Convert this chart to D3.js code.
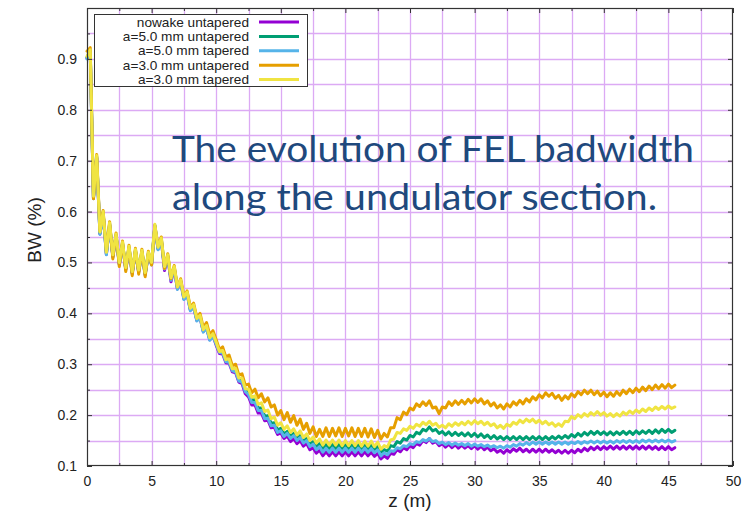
<!DOCTYPE html>
<html>
<head>
<meta charset="utf-8">
<script src="https://cdn.jsdelivr.net/npm/d3@7"></script>
<style>
  html, body { margin: 0; padding: 0; background: #fff; }
  svg { display: block; }
</style>
</head>
<body>
<svg id="chart" width="743" height="513"></svg>
<script>
// FEL bandwidth (%) along the undulator, sampled every 0.25 m from z = 0 to 45.5 m
const zStep = 0.25;

const bwNowakeUntapered = [
  0.901,0.914,0.626,0.706,0.556,0.596,0.516,0.574,0.511,0.552,0.496,0.536,0.486,0.528,0.478,0.522,0.481,0.520,0.476,0.516,
  0.496,0.571,0.526,0.544,0.484,0.511,0.462,0.488,0.448,0.462,0.428,0.438,0.406,0.413,0.386,0.392,0.364,0.372,0.348,0.356,
  0.337,0.321,0.320,0.303,0.302,0.285,0.283,0.265,0.262,0.242,0.236,0.220,0.220,0.204,0.204,0.189,0.190,0.175,0.176,0.162,
  0.165,0.154,0.159,0.148,0.154,0.144,0.150,0.139,0.144,0.132,0.136,0.125,0.131,0.120,
  0.128,0.120,0.128,0.120,0.128,0.120,0.128,0.120,0.128,0.120,0.128,0.120,0.128,0.120,0.127,0.119,
  0.125,0.114,0.120,
  0.115,0.125,0.123,0.132,0.128,0.136,0.132,0.140,0.136,0.144,0.141,0.150,0.146,0.154,
  0.145,0.148,0.140,0.144,0.137,0.143,0.136,0.142,0.135,0.141,0.135,0.140,0.134,0.140,0.133,0.139,0.132,0.137,0.130,0.134,0.127,0.131,
  0.125,0.132,0.127,0.134,0.129,0.135,0.128,0.133,0.127,0.133,0.127,0.133,0.127,0.133,0.127,
  0.132,0.126,0.131,0.125,0.131,0.125,0.131,0.126,0.133,0.128,0.135,0.130,0.137,0.132,0.138,0.132,0.138,
  0.133,0.139,0.133,0.139,0.133,0.139,0.133,0.139,0.133,0.139,0.133,0.139,0.133,0.139,0.133,0.138,0.132,0.138,0.132,0.138,0.132,0.136
];

const bwA5Untapered = [
  0.903,0.916,0.628,0.708,0.558,0.598,0.518,0.576,0.513,0.554,0.498,0.538,0.488,0.530,0.480,0.524,0.483,0.522,0.478,0.518,
  0.498,0.573,0.528,0.546,0.490,0.513,0.468,0.490,0.450,0.464,0.430,0.440,0.408,0.415,0.388,0.394,0.367,0.374,0.350,0.358,
  0.342,0.326,0.325,0.308,0.307,0.290,0.289,0.271,0.269,0.250,0.244,0.229,0.230,0.214,0.214,0.198,0.199,0.184,0.185,0.171,
  0.174,0.163,0.168,0.158,0.164,0.154,0.160,0.149,0.154,0.143,0.148,0.138,0.144,0.134,
  0.142,0.134,0.142,0.134,0.142,0.134,0.142,0.134,0.142,0.134,0.142,0.134,0.142,0.133,0.141,0.132,
  0.139,0.127,0.132,
  0.129,0.140,0.138,0.148,0.145,0.154,0.151,0.160,0.157,0.166,0.163,0.172,0.169,0.177,
  0.169,0.172,0.164,0.168,0.161,0.167,0.160,0.166,0.160,0.165,0.159,0.165,0.158,0.164,0.157,0.163,0.156,0.161,0.154,0.160,0.153,0.158,
  0.152,0.158,0.152,0.158,0.152,0.158,0.152,0.158,0.152,0.158,0.152,0.158,0.152,0.158,0.152,0.158,
  0.153,0.159,0.154,0.160,0.155,0.162,0.157,0.164,0.159,0.166,0.161,0.168,0.162,0.168,0.162,0.167,0.161,
  0.167,0.161,0.167,0.162,0.168,0.162,0.168,0.162,0.169,0.163,0.169,0.164,0.170,0.164,0.171,0.165,0.172,0.166,0.172,0.166,0.170
];

const bwA5Tapered = [
  0.900,0.913,0.625,0.705,0.555,0.595,0.515,0.573,0.510,0.551,0.495,0.535,0.485,0.527,0.477,0.521,0.480,0.519,0.475,0.515,
  0.495,0.570,0.525,0.543,0.487,0.510,0.465,0.487,0.447,0.461,0.427,0.437,0.405,0.412,0.385,0.391,0.363,0.371,0.347,0.355,
  0.339,0.323,0.322,0.305,0.304,0.287,0.285,0.267,0.265,0.246,0.240,0.225,0.225,0.209,0.209,0.193,0.194,0.179,0.180,0.166,
  0.169,0.158,0.164,0.154,0.160,0.150,0.156,0.145,0.150,0.138,0.143,0.132,0.138,0.127,
  0.135,0.127,0.135,0.127,0.135,0.127,0.135,0.127,0.135,0.127,0.135,0.127,0.135,0.127,0.134,0.126,
  0.132,0.120,0.126,
  0.122,0.130,0.129,0.136,0.134,0.140,0.138,0.144,0.142,0.148,0.146,0.152,0.149,0.154,
  0.148,0.150,0.144,0.147,0.142,0.146,0.141,0.145,0.141,0.144,0.140,0.144,0.139,0.143,0.139,0.142,0.138,0.141,0.137,0.140,0.136,0.139,
  0.135,0.140,0.137,0.142,0.139,0.144,0.141,0.146,0.142,0.147,
  0.143,0.147,0.143,0.147,0.143,0.147,0.143,0.147,0.143,0.147,0.143,0.147,
  0.144,0.148,0.144,0.148,0.145,0.149,0.145,0.149,0.145,0.149,0.145,0.149,0.145,
  0.150,0.146,0.150,0.146,0.150,0.146,0.150,0.146,0.151,0.147,0.151,0.147,0.151,0.147,0.151,0.147,0.151,0.147,0.150
];

const bwA3Untapered = [
  0.915,0.922,0.625,0.712,0.562,0.602,0.522,0.580,0.507,0.558,0.492,0.542,0.482,0.534,0.474,0.528,0.477,0.526,0.472,0.522,
  0.495,0.572,0.532,0.550,0.488,0.517,0.468,0.494,0.452,0.468,0.433,0.444,0.412,0.420,0.392,0.400,0.372,0.382,0.358,0.366,
  0.348,0.329,0.334,0.314,0.318,0.297,0.300,0.279,0.281,0.259,0.261,0.244,0.251,0.234,0.242,0.226,0.234,0.216,0.220,0.200,
  0.209,0.191,0.205,0.186,0.199,0.180,0.192,0.172,0.184,0.164,0.177,0.158,0.172,
  0.158,0.175,0.158,0.174,0.159,0.175,0.158,0.174,0.159,0.175,0.158,0.174,0.158,0.174,0.157,0.173,0.156,0.170,0.153,0.164,
  0.157,0.175,0.175,0.195,0.191,0.206,0.201,
  0.214,0.210,0.222,0.217,0.226,0.219,0.228,0.214,0.216,0.203,0.216,0.214,0.226,0.219,0.228,0.221,0.229,0.222,0.231,0.224,0.232,0.225,
  0.232,0.222,0.228,0.218,0.224,0.214,0.220,0.212,0.222,0.216,0.226,0.220,0.229,0.222,0.232,0.226,0.236,0.230,0.240,0.234,0.244,0.237,
  0.243,0.233,0.239,0.229,0.238,0.232,0.242,0.236,0.246,0.240,0.249,0.242,0.249,0.240,0.247,0.238,0.245,0.236,0.244,0.237,
  0.246,0.239,0.249,0.242,0.251,0.244,0.253,0.246,0.255,0.248,0.257,0.250,0.259,0.252,0.260,0.253,0.261,0.254,0.259
];

const bwA3Tapered = [
  0.905,0.918,0.630,0.710,0.560,0.600,0.520,0.578,0.515,0.556,0.500,0.540,0.490,0.532,0.482,0.526,0.485,0.524,0.480,0.520,
  0.500,0.575,0.530,0.548,0.492,0.515,0.470,0.492,0.452,0.466,0.432,0.442,0.410,0.417,0.390,0.396,0.368,0.376,0.352,0.360,
  0.343,0.325,0.327,0.309,0.310,0.291,0.292,0.273,0.273,0.252,0.251,0.235,0.238,0.221,0.224,0.207,0.210,0.193,0.196,0.180,
  0.185,0.172,0.179,0.166,0.173,0.161,0.169,0.156,0.163,0.150,0.157,0.145,0.153,0.141,
  0.151,0.141,0.151,0.141,0.151,0.140,0.150,0.140,0.150,0.140,0.150,0.139,0.149,0.139,0.149,0.138,0.147,0.133,0.140,
  0.137,0.151,0.153,0.166,0.164,0.173,0.170,0.178,0.174,0.182,0.178,0.186,0.181,0.188,
  0.180,0.184,0.176,0.180,0.175,0.183,0.178,0.185,0.180,0.186,0.181,0.188,0.182,0.189,0.183,0.188,0.181,0.186,0.179,0.183,0.175,0.180,
  0.174,0.182,0.178,0.186,0.182,0.190,0.185,0.192,0.187,0.192,0.185,0.190,0.183,0.188,0.181,0.185,0.178,0.183,0.178,
  0.188,0.187,0.197,0.193,0.201,0.196,0.203,0.198,0.205,0.200,0.207,0.200,0.205,0.198,0.203,0.197,0.203,0.198,
  0.206,0.201,0.208,0.203,0.210,0.205,0.212,0.207,0.214,0.209,0.216,0.211,0.217,0.212,0.218,0.213,0.216
];

const seriesNames = ["nowake untapered", "a=5.0 mm untapered", "a=5.0 mm tapered", "a=3.0 mm untapered", "a=3.0 mm tapered"];
const seriesColors = ["#9400d3", "#009e73", "#56b4e9", "#e69f00", "#f0e442"];
const seriesValues = [bwNowakeUntapered, bwA5Untapered, bwA5Tapered, bwA3Untapered, bwA3Tapered];

const zTicks = [0, 5, 10, 15, 20, 25, 30, 35, 40, 45, 50];
const bwTicks = [0.1, 0.2, 0.3, 0.4, 0.5, 0.6, 0.7, 0.8, 0.9];
const zMinorTicks = [2.5, 7.5, 12.5, 17.5, 22.5, 27.5, 32.5, 37.5, 42.5, 47.5];
const bwMinorTicks = [0.15, 0.25, 0.35, 0.45, 0.55, 0.65, 0.75, 0.85, 0.95];

const xLabel = "z (m)";
const yLabel = "BW (%)";
const noteLines = ["The evolution of FEL badwidth", "along the undulator section."];

// ---- layout ----
const svg = d3.select("#chart");
const plot = { left: 87, right: 733, top: 8, bottom: 466 };
const x = d3.scaleLinear().domain([0, 50]).range([plot.left, plot.right]);
const y = d3.scaleLinear().domain([0.1, 1.0]).range([plot.bottom, plot.top]);

svg.append("rect").attr("width", 743).attr("height", 513).attr("fill", "#fff");

// grid at every major and minor tick
const gridColor = "#dcaaf4";
const gridX = zTicks.concat(zMinorTicks).filter(v => v > 0 && v < 50);
const gridY = bwTicks.concat(bwMinorTicks).filter(v => v > 0.1 && v < 1.0);
const grid = svg.append("g").attr("stroke", gridColor).attr("stroke-width", 1.3);
grid.selectAll("line.gx").data(gridX).join("line")
  .attr("x1", d => Math.round(x(d)) + 0.5).attr("x2", d => Math.round(x(d)) + 0.5)
  .attr("y1", plot.top).attr("y2", plot.bottom);
grid.selectAll("line.gy").data(gridY).join("line")
  .attr("y1", d => Math.round(y(d)) + 0.5).attr("y2", d => Math.round(y(d)) + 0.5)
  .attr("x1", plot.left).attr("x2", plot.right);

// curves
const line = d3.line()
  .x((d, i) => x(i * zStep))
  .y(d => y(d));

const curves = svg.append("g");
seriesValues.forEach((vals, k) => {
  curves.append("path")
    .datum(vals)
    .attr("fill", "none")
    .attr("stroke", seriesColors[k])
    .attr("stroke-width", 3)
    .attr("stroke-linejoin", "round")
    .attr("stroke-linecap", "round")
    .attr("d", line);
});

// axes: ticks point inward and are mirrored on the top and right borders
const axisFont = "'Liberation Sans', Arial, sans-serif";
const axisColor = "#333";

function styleAxis(g) {
  g.selectAll(".domain").remove();
  g.selectAll(".tick line").attr("stroke", axisColor);
  g.selectAll(".tick text").attr("fill", "#222").style("font-family", axisFont).style("font-size", "14px");
}

svg.append("g").attr("transform", `translate(0,${plot.bottom})`)
  .call(d3.axisBottom(x).tickValues(zTicks).tickFormat(d3.format("d")).tickSizeInner(-5).tickSizeOuter(0).tickPadding(10))
  .call(styleAxis);
svg.append("g").attr("transform", `translate(0,${plot.bottom})`)
  .call(d3.axisBottom(x).tickValues(zMinorTicks).tickFormat("").tickSizeInner(-3).tickSizeOuter(0))
  .call(styleAxis);
svg.append("g").attr("transform", `translate(${plot.left},0)`)
  .call(d3.axisLeft(y).tickValues(bwTicks).tickFormat(d3.format(".1f")).tickSizeInner(-5).tickSizeOuter(0).tickPadding(10))
  .call(styleAxis);
svg.append("g").attr("transform", `translate(${plot.left},0)`)
  .call(d3.axisLeft(y).tickValues(bwMinorTicks).tickFormat("").tickSizeInner(-3).tickSizeOuter(0))
  .call(styleAxis);
svg.append("g").attr("transform", `translate(0,${plot.top})`)
  .call(d3.axisTop(x).tickValues(zTicks).tickFormat("").tickSizeInner(-5).tickSizeOuter(0))
  .call(styleAxis);
svg.append("g").attr("transform", `translate(0,${plot.top})`)
  .call(d3.axisTop(x).tickValues(zMinorTicks).tickFormat("").tickSizeInner(-3).tickSizeOuter(0))
  .call(styleAxis);
svg.append("g").attr("transform", `translate(${plot.right},0)`)
  .call(d3.axisRight(y).tickValues(bwTicks).tickFormat("").tickSizeInner(-5).tickSizeOuter(0))
  .call(styleAxis);
svg.append("g").attr("transform", `translate(${plot.right},0)`)
  .call(d3.axisRight(y).tickValues(bwMinorTicks).tickFormat("").tickSizeInner(-3).tickSizeOuter(0))
  .call(styleAxis);

// frame
svg.append("rect")
  .attr("x", plot.left + 0.5).attr("y", plot.top + 0.5)
  .attr("width", plot.right - plot.left - 1).attr("height", plot.bottom - plot.top - 1)
  .attr("fill", "none").attr("stroke", axisColor).attr("stroke-width", 1.2);

// axis titles
svg.append("text")
  .attr("x", 410).attr("y", 507)
  .attr("text-anchor", "middle")
  .style("font-family", axisFont).style("font-size", "19px").attr("fill", "#222")
  .text(xLabel);
svg.append("text")
  .attr("transform", `translate(41,230) rotate(-90)`)
  .attr("text-anchor", "middle")
  .style("font-family", axisFont).style("font-size", "19px").attr("fill", "#222")
  .text(yLabel);

// legend: rows 14.5 px apart, labels widened slightly to fill the box
const legend = svg.append("g");
legend.append("rect")
  .attr("x", 94.5).attr("y", 14.5).attr("width", 213).attr("height", 72)
  .attr("fill", "#fff").attr("stroke", axisColor).attr("stroke-width", 1);
seriesNames.forEach((name, k) => {
  const cy = 22 + k * 14.4;
  const label = legend.append("text")
    .attr("x", 249).attr("y", cy + 4.5)
    .attr("text-anchor", "end")
    .style("font-family", axisFont).style("font-size", "12.4px").attr("fill", "#222")
    .text(name);
  const w = label.node().getComputedTextLength();
  label.attr("textLength", w * 1.1).attr("lengthAdjust", "spacingAndGlyphs");
  legend.append("line")
    .attr("x1", 259).attr("x2", 299).attr("y1", cy).attr("y2", cy)
    .attr("stroke", seriesColors[k]).attr("stroke-width", 3);
});

// annotation text
const note = svg.append("g")
  .style("font-family", "Lato, 'Open Sans', sans-serif")
  .style("font-size", "36px")
  .attr("fill", "#1f497d");
note.append("text").attr("x", 172).attr("y", 162)
  .attr("textLength", 522).attr("lengthAdjust", "spacingAndGlyphs")
  .text(noteLines[0]);
note.append("text").attr("x", 172).attr("y", 210)
  .attr("textLength", 485).attr("lengthAdjust", "spacingAndGlyphs")
  .text(noteLines[1]);
</script>
</body>
</html>
